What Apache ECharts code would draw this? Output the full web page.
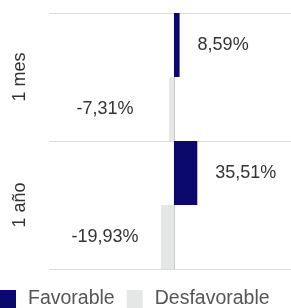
<!DOCTYPE html>
<html>
<head>
<meta charset="utf-8">
<script src="https://cdn.jsdelivr.net/npm/echarts@6/dist/echarts.min.js"></script>
<style>
  html, body { margin: 0; padding: 0; background: #fff; }
  #chart { width: 291px; height: 308px; }
</style>
</head>
<body>
<div id="chart"></div>
<script>
const categories = ["1 mes", "1 año"];
const favorable = [8.59, 35.51];
const desfavorable = [-7.31, -19.93];
const seriesNames = ["Favorable", "Desfavorable"];

const fmt = (v) => v.toFixed(2).replace(".", ",") + "%";
const font = "Liberation Sans, Arial, sans-serif";

const chart = echarts.init(document.getElementById("chart"));

const option = {
  animation: false,
  textStyle: { fontFamily: font },
  grid: { left: 49, right: 0, top: 13, bottom: 39 },
  legend: {
    left: 0,
    bottom: -1,
    padding: 0,
    icon: "rect",
    itemWidth: 16,
    itemHeight: 18,
    itemGap: 12,
    textStyle: { fontSize: 19.5, color: "#555", padding: [0, 0, 0, 7], fontFamily: font },
    data: seriesNames,
  },
  xAxis: {
    type: "value",
    min: -190,
    max: 178,
    show: false,
  },
  yAxis: {
    type: "category",
    inverse: true,
    data: categories,
    axisTick: { show: false },
    axisLine: { show: true, lineStyle: { color: "#c8cbc9" } },
    splitLine: { show: true, lineStyle: { color: "#dddddd" } },
    axisLabel: {
      rotate: 90,
      fontSize: 18,
      color: "#333",
      margin: 20,
      fontFamily: font,
    },
  },
  series: [
    {
      name: seriesNames[0],
      type: "bar",
      data: favorable,
      barGap: "0%",
      barCategoryGap: "0%",
      itemStyle: { color: "#0b0a6c" },
      label: {
        show: true,
        position: "right",
        distance: 18,
        fontSize: 18,
        color: "#333",
        fontFamily: font,
        formatter: (p) => fmt(p.value),
      },
    },
    {
      name: seriesNames[1],
      type: "bar",
      data: desfavorable,
      barGap: "0%",
      barCategoryGap: "0%",
      itemStyle: { color: "#e4e7e5" },
      label: {
        show: true,
        position: "left",
        fontSize: 18,
        color: "#333",
        fontFamily: font,
        formatter: (p) => fmt(p.value),
      },
      labelLayout: (p) => ({
        x: 105,
        y: p.rect.y + p.rect.height / 2,
        align: "center",
        verticalAlign: "middle",
      }),
    },
  ],
};

chart.setOption(option);
</script>
</body>
</html>
